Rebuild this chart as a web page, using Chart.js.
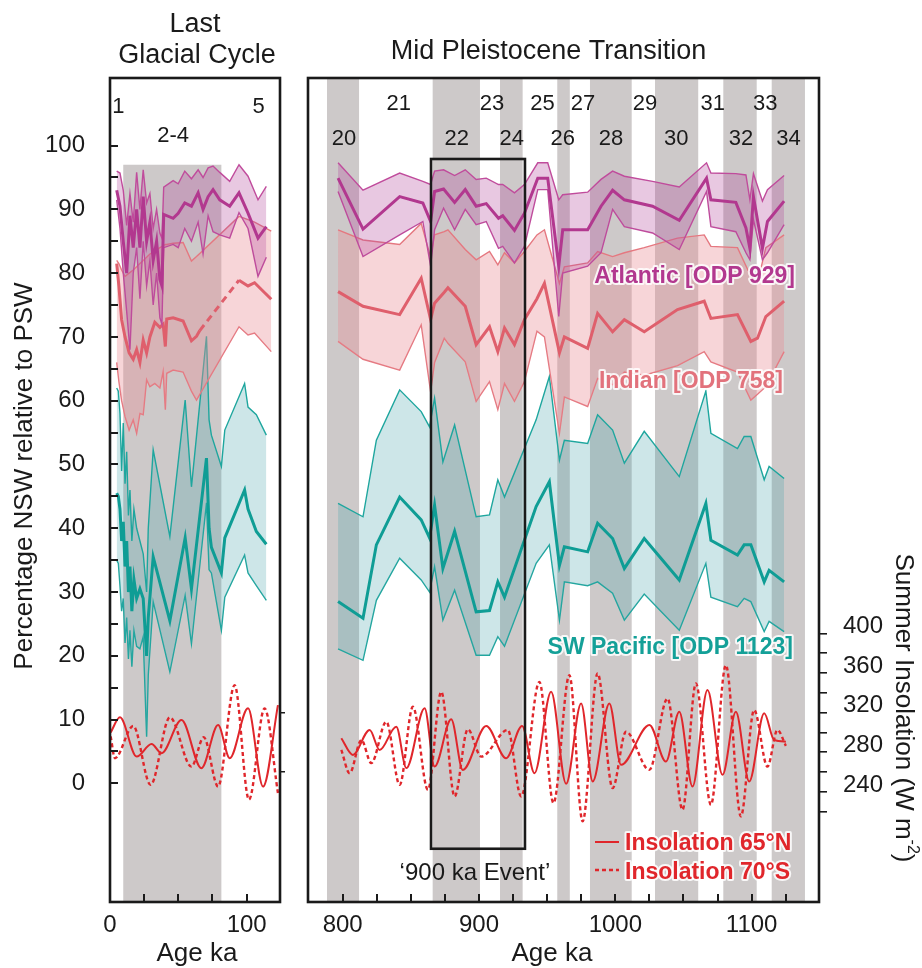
<!DOCTYPE html>
<html>
<head>
<meta charset="utf-8">
<script src="https://cdn.jsdelivr.net/npm/chart.js@4.4.1/dist/chart.umd.min.js"></script>
<style>
html,body{margin:0;padding:0;background:#ffffff;}
#wrap{position:relative;width:922px;height:968px;overflow:hidden;}
#cA{position:absolute;left:0;top:0;}
#cB{position:absolute;left:300px;top:0;}
</style>
</head>
<body>
<div id="wrap">
<canvas id="cA" width="300" height="968"></canvas>
<canvas id="cB" width="622" height="968"></canvas>
</div>
<script>
// ================= DATA =================
// ---- Left panel: Last Glacial Cycle (Age ka) ----
const lgcAtlAge   = [4.9, 7.3, 9.7, 12.2, 14.6, 17.0, 19.5, 21.9, 24.3, 26.8, 29.2, 31.6, 34.1, 36.5, 38.0, 39.3, 46.2, 49.9, 54.7, 59.6, 64.5, 68.1, 71.8, 75.4, 80.3, 87.6, 94.4, 101.0, 108.3, 114.4];
const lgcAtlMean  = [93.0, 90.5, 85.0, 80.0, 89.0, 84.0, 90.0, 84.0, 92.0, 85.0, 88.0, 82.0, 85.0, 79.0, 78.0, 89.2, 88.6, 89.4, 91.0, 90.5, 92.6, 90.0, 92.0, 93.1, 91.5, 90.5, 92.6, 89.4, 85.5, 87.3];
const lgcAtlUpper = [96.0, 95.7, 93.0, 87.5, 92.5, 88.0, 95.8, 90.0, 96.2, 91.0, 92.5, 87.0, 90.0, 86.3, 85.5, 93.5, 94.5, 94.0, 96.0, 94.8, 96.2, 95.0, 96.5, 96.8, 95.8, 94.4, 97.0, 95.2, 91.5, 93.6];
const lgcAtlLower = [91.5, 87.0, 80.0, 74.0, 68.0, 80.0, 84.0, 76.0, 85.0, 78.0, 82.0, 75.0, 80.0, 73.0, 72.0, 84.0, 84.5, 84.0, 87.0, 85.0, 88.0, 83.0, 89.0, 86.5, 86.0, 85.5, 89.5, 87.0, 79.5, 82.5];

const lgcIndAge   = [4.9, 6.5, 8.5, 11.0, 14.0, 17.0, 19.5, 21.9, 24.3, 26.8, 29.2, 32.8, 36.5, 38.9, 40.5, 41.5, 46.2, 53.5, 59.6, 63.3, 65.7, 94.4, 101.0, 105.8, 118.0];
const lgcIndMean  = [81.5, 78.0, 72.7, 70.0, 67.5, 66.5, 68.0, 66.0, 69.5, 67.5, 70.0, 72.3, 71.5, 72.0, 68.5, 72.8, 73.0, 72.5, 69.4, 70.1, 71.0, 78.9, 78.0, 78.5, 75.9];
const lgcIndUpper = [82.0, 81.5, 80.5, 79.5, 80.0, 80.5, 81.0, 81.5, 82.0, 82.5, 83.0, 83.5, 84.0, 84.3, 84.5, 84.5, 84.7, 84.8, 81.9, 82.6, 83.1, 88.9, 88.4, 88.0, 86.6];
const lgcIndLower = [66.0, 63.0, 60.0, 57.5, 55.4, 57.0, 54.9, 58.0, 57.8, 63.3, 62.2, 62.7, 62.0, 64.6, 58.6, 64.3, 64.8, 64.5, 61.5, 60.1, 61.0, 71.6, 70.3, 70.6, 67.7];

const lgcPacAge   = [4.9, 6.1, 7.3, 8.5, 9.7, 11.0, 12.2, 13.5, 14.6, 16.0, 17.5, 19.5, 21.9, 24.3, 26.8, 28.0, 31.6, 43.8, 55.0, 59.6, 70.6, 72.5, 74.2, 81.5, 84.0, 98.5, 101.0, 107.1, 114.4];
const lgcPacUpper = [62.0, 61.5, 58.0, 49.0, 56.5, 47.0, 52.0, 42.0, 46.0, 38.0, 43.0, 40.0, 38.0, 36.0, 30.0, 40.0, 52.3, 38.7, 60.1, 46.5, 70.1, 57.0, 54.6, 49.7, 55.4, 62.7, 59.0, 57.8, 54.6];
const lgcPacMean  = [45.5, 45.0, 43.0, 38.0, 41.0, 34.0, 38.0, 30.0, 34.0, 27.0, 32.0, 29.0, 30.5, 29.0, 20.0, 26.0, 35.5, 25.5, 38.5, 30.5, 51.0, 40.0, 37.0, 33.0, 38.5, 46.0, 43.0, 39.5, 37.5];
const lgcPacLower = [35.0, 34.5, 31.0, 27.0, 29.0, 22.0, 26.0, 19.5, 24.0, 18.3, 24.0, 21.5, 21.1, 23.0, 7.3, 17.0, 28.5, 17.5, 29.5, 21.9, 44.0, 33.5, 33.0, 24.0, 29.2, 35.8, 33.0, 31.0, 28.7];

const lgcInsNAge  = [0.5, 7.3, 19.5, 30.4, 37.7, 52.3, 66.9, 79.1, 87.6, 101.0, 112.0, 122.9];
const lgcInsN     = [300, 315.2, 275.6, 288.4, 279.0, 312.5, 263.9, 307.5, 274.0, 324.3, 245.4, 327.6];
const lgcInsSAge  = [0.5, 3.6, 17.0, 29.7, 43.8, 59.6, 68.6, 79.1, 91.2, 101.7, 113.1, 122.9];
const lgcInsS     = [296, 274.0, 306.5, 247.1, 315.2, 265.5, 295.1, 245.4, 347.7, 232.1, 324.3, 238.8];

const lgcBands = [[9.7, 81.5]];
const lgcBandTop = 97;
const lgcStageNames = ['1', '5', '2-4'];
const lgcStageAge   = [6.1, 108.8, 46.2];

// ---- Right panel: Mid Pleistocene Transition (Age ka) ----
const mptAtlAge   = [796.6, 814.9, 841.8, 858.8, 864.5, 867.4, 874.0, 882.1, 889.9, 897.9, 905.3, 914.3, 917.4, 926.0, 933.3, 943.1, 950.4, 958.5, 961.4, 979.7, 989.5, 998.0, 1006.6, 1027.3, 1046.9, 1066.9, 1070.1, 1088.4, 1095.8, 1098.7, 1101.3, 1107.9, 1111.6, 1123.8];
const mptAtlMean  = [94.9, 86.9, 92.0, 91.0, 88.1, 92.8, 93.2, 91.1, 93.1, 90.5, 90.9, 88.6, 89.0, 86.7, 89.4, 94.9, 94.9, 81.1, 86.8, 86.8, 90.5, 93.0, 91.5, 90.5, 88.3, 94.9, 91.5, 91.1, 87.1, 83.9, 92.0, 83.9, 88.1, 91.3];
const mptAtlUpper = [97.3, 93.0, 95.7, 94.4, 93.9, 96.0, 96.2, 95.3, 96.2, 94.7, 94.9, 93.9, 93.9, 92.6, 93.9, 97.3, 97.3, 91.5, 92.3, 92.7, 94.7, 96.0, 95.2, 94.4, 93.5, 97.3, 95.7, 95.6, 95.4, 91.5, 95.6, 91.3, 93.1, 95.3];
const mptAtlLower = [92.8, 82.6, 86.0, 88.1, 81.1, 86.8, 90.2, 86.8, 90.0, 87.6, 88.1, 83.9, 84.2, 81.6, 84.2, 93.1, 93.1, 73.2, 80.0, 81.1, 83.2, 90.0, 87.3, 86.3, 83.7, 92.8, 87.3, 86.5, 83.2, 82.1, 88.4, 82.1, 83.2, 87.6];

const mptIndAge   = [796.6, 814.9, 841.8, 857.6, 864.5, 867.4, 874.5, 877.2, 889.9, 897.9, 907.7, 913.8, 918.7, 926.0, 933.3, 942.5, 948.0, 959.0, 962.6, 979.7, 987.0, 998.0, 1006.6, 1021.2, 1045.6, 1065.2, 1070.1, 1089.6, 1099.4, 1104.3, 1110.4, 1123.8];
const mptIndMean  = [77.1, 74.8, 73.5, 79.2, 72.7, 75.3, 77.0, 77.7, 74.8, 68.8, 71.6, 67.7, 71.4, 68.8, 72.7, 76.0, 78.4, 67.5, 70.0, 68.2, 73.7, 70.8, 72.7, 70.8, 74.3, 75.6, 72.9, 73.5, 69.3, 69.8, 73.2, 75.6];
const mptIndUpper = [86.8, 85.2, 84.5, 87.8, 82.5, 86.0, 86.5, 86.8, 83.7, 82.1, 83.4, 81.3, 83.2, 81.6, 83.4, 86.0, 86.8, 78.4, 81.0, 81.6, 83.4, 82.6, 83.2, 84.0, 85.5, 86.0, 84.2, 84.0, 79.5, 78.5, 84.0, 86.0];
const mptIndLower = [69.3, 66.5, 64.8, 71.9, 61.4, 66.0, 69.8, 69.0, 66.1, 59.9, 63.0, 58.6, 62.7, 59.9, 63.0, 70.9, 70.0, 54.9, 60.6, 59.1, 63.5, 62.5, 64.5, 64.0, 65.5, 67.7, 66.1, 64.5, 60.1, 61.0, 62.2, 67.7];

const mptPacAge   = [796.6, 814.9, 824.7, 841.8, 857.6, 863.7, 867.4, 873.5, 882.1, 897.9, 907.7, 913.8, 918.7, 941.9, 951.6, 959.0, 962.6, 979.7, 987.0, 998.0, 1006.6, 1021.2, 1046.9, 1066.4, 1070.1, 1089.6, 1094.5, 1099.4, 1109.2, 1112.8, 1123.8];
const mptPacUpper = [43.9, 41.8, 53.8, 61.7, 58.3, 55.9, 60.4, 50.4, 56.2, 41.8, 42.1, 47.6, 44.9, 57.0, 63.8, 50.7, 53.8, 53.3, 57.8, 55.4, 50.2, 55.2, 48.1, 61.5, 54.9, 52.5, 54.4, 54.4, 47.6, 49.7, 47.8];
const mptPacMean  = [28.5, 25.9, 37.4, 44.9, 41.3, 38.5, 43.6, 33.7, 39.5, 26.9, 27.1, 31.6, 29.2, 43.4, 47.3, 34.2, 37.1, 36.3, 40.8, 38.4, 33.7, 38.4, 31.9, 43.9, 38.1, 35.8, 37.4, 37.4, 31.6, 33.4, 31.6];
const mptPacLower = [21.1, 19.3, 28.7, 35.3, 31.9, 30.0, 34.0, 25.6, 30.3, 20.1, 20.1, 23.0, 21.5, 34.5, 37.4, 25.6, 31.6, 31.0, 31.6, 29.8, 25.6, 29.7, 24.0, 34.5, 29.2, 27.7, 29.0, 28.5, 23.8, 25.4, 23.8];

const mptInsNAge  = [799.0, 807.5, 819.8, 827.1, 839.3, 846.7, 860.1, 867.4, 879.6, 888.1, 905.3, 919.9, 931.6, 940.7, 952.9, 963.9, 974.9, 983.4, 995.6, 1004.2, 1025.0, 1037.1, 1046.9, 1056.6, 1067.6, 1078.6, 1088.4, 1098.2, 1109.2, 1116.5, 1125.1];
const mptInsN     = [294.1, 277.3, 302.5, 282.3, 305.8, 264.0, 324.3, 265.5, 313.2, 262.2, 306.5, 274.0, 306.5, 258.9, 341.0, 248.1, 329.3, 250.5, 329.3, 267.3, 307.5, 270.6, 320.9, 245.4, 342.7, 257.2, 320.9, 250.5, 319.3, 292.4, 290.7];
const mptInsSAge  = [799.0, 805.1, 813.7, 821.0, 832.0, 841.8, 851.5, 862.5, 872.3, 882.1, 891.8, 901.6, 921.1, 930.9, 944.3, 954.6, 966.3, 976.0, 987.0, 998.0, 1007.8, 1024.9, 1038.3, 1049.3, 1059.1, 1070.1, 1081.1, 1092.1, 1101.8, 1111.6, 1118.9, 1125.1];
const mptInsS     = [282.3, 258.9, 292.4, 269.0, 310.8, 247.1, 325.9, 242.1, 341.0, 235.4, 303.2, 275.6, 302.5, 235.4, 351.0, 228.7, 357.8, 210.2, 359.5, 243.8, 300.7, 262.2, 334.3, 222.0, 349.4, 227.0, 367.8, 215.3, 322.6, 265.5, 302.5, 286.4];

const mptBands = [[788.5, 812.0], [866.0, 900.7], [915.4, 932.0], [957.4, 966.6], [981.4, 1012.0], [1029.1, 1060.8], [1079.2, 1103.7], [1114.7, 1139.1]];
const mptStageNames = ['20', '21', '22', '23', '24', '25', '26', '27', '28', '29', '30', '31', '32', '33', '34'];
const mptStageAge   = [801.0, 841.1, 883.6, 909.5, 924.0, 946.6, 961.4, 976.3, 996.8, 1021.7, 1044.7, 1071.5, 1092.2, 1110.0, 1127.0];
const eventAge = [864.8, 933.7];
const eventNsw = [-10.25, 97.9];

// tick definitions
const nswTicks = [0, 5, 10, 15, 20, 25, 30, 35, 40, 45, 50, 55, 60, 65, 70, 75, 80, 85, 90, 95, 100];
const lgcAgeTicks = [0, 25, 50, 75, 100];
const mptAgeTicks = [800, 825, 850, 875, 900, 925, 950, 975, 1000, 1025, 1050, 1075, 1100, 1125];
const insTicks = [220, 240, 260, 280, 300, 320, 340, 360, 380, 400];
const lgcInsMarks = [260, 320];

// ================= STYLE =================
const FONT = "'Liberation Sans', Arial, Helvetica, sans-serif";
const INK = '#1a1a1a';
const GRAY = '#cdc9c9';
const ATL = '#b2388f', ATL_T = '#c04c9c', ATL_F = 'rgba(181,77,158,0.31)';
const IND = '#df5f6c', IND_T = '#e57880', IND_F = 'rgba(233,141,149,0.37)';
const PAC = '#0f9d95', PAC_T = '#1ea69e', PAC_F = 'rgba(83,169,176,0.29)';
const RED = '#e0262b';
const NSW_MIN = -18.6, NSW_MAX = 110.6;
const INS_MIN = 128.9, INS_MAX = 960.3;

function mk(xs, ys) { return xs.map((x, i) => ({ x: x, y: ys[i] })); }

function seriesSets(name, xs, up, lo, mean, col, thin, fillCol, segDash) {
  const m = { label: name, data: mk(xs, mean), borderColor: col, borderWidth: 3, yAxisID: 'y', fill: false };
  if (segDash) m.segment = { borderDash: segDash };
  return [
    m,
    { label: name + ' upper', data: mk(xs, up), borderColor: thin, borderWidth: 1.4, yAxisID: 'y', fill: '+1', backgroundColor: fillCol },
    { label: name + ' lower', data: mk(xs, lo), borderColor: thin, borderWidth: 1.4, yAxisID: 'y', fill: false }
  ];
}
function insSets(xN, yN, xS, yS) {
  return [
    { label: 'Insolation 65°N', data: mk(xN, yN), borderColor: RED, borderWidth: 2, yAxisID: 'yI', fill: false, cubicInterpolationMode: 'monotone' },
    { label: 'Insolation 70°S', data: mk(xS, yS), borderColor: RED, borderWidth: 2.4, borderDash: [4, 3], yAxisID: 'yI', fill: false, cubicInterpolationMode: 'monotone' }
  ];
}

function txt(ctx, s, x, y, o) {
  o = o || {};
  ctx.save();
  ctx.font = (o.bold ? 'bold ' : '') + (o.size || 24) + 'px ' + FONT;
  ctx.textAlign = o.align || 'center';
  ctx.textBaseline = o.base || 'alphabetic';
  if (o.halo) { ctx.lineJoin = 'round'; ctx.strokeStyle = 'rgba(255,255,255,0.85)'; ctx.lineWidth = 4; ctx.strokeText(s, x, y); }
  ctx.fillStyle = o.color || INK;
  ctx.fillText(s, x, y);
  ctx.restore();
}
function boxAndTicks(chart, xTicks, yTicks) {
  const { ctx, chartArea: a, scales } = chart;
  ctx.save();
  ctx.strokeStyle = INK; ctx.lineWidth = 2.6;
  ctx.strokeRect(a.left, a.top, a.right - a.left, a.bottom - a.top);
  ctx.lineWidth = 2;
  ctx.beginPath();
  xTicks.forEach(v => { const px = Math.round(scales.x.getPixelForValue(v)); ctx.moveTo(px, a.bottom); ctx.lineTo(px, a.bottom - 8); });
  (yTicks || []).forEach(v => { const py = Math.round(scales.y.getPixelForValue(v)); ctx.moveTo(a.left, py); ctx.lineTo(a.left + 8, py); });
  ctx.stroke();
  ctx.restore();
}

function baseOptions(xMin, xMax, xTicks, xLabelEvery) {
  return {
    responsive: false, animation: false, devicePixelRatio: 1,
    elements: { line: { tension: 0 }, point: { radius: 0, hitRadius: 0 } },
    plugins: { legend: { display: false }, tooltip: { enabled: false }, filler: { propagate: false } },
    scales: {
      x: {
        type: 'linear', position: 'bottom', min: xMin, max: xMax,
        afterFit: s => { s.height = 66; },
        afterBuildTicks: s => { s.ticks = xTicks.map(v => ({ value: v })); },
        ticks: { autoSkip: false, maxRotation: 0, padding: 9, color: INK, font: { family: FONT, size: 24 },
                 callback: v => (v % xLabelEvery === 0 ? String(v) : '') },
        grid: { display: false, drawTicks: false }, border: { display: false }
      }
    }
  };
}

// ================= LEFT CHART =================
const optA = baseOptions(0, 124.4, lgcAgeTicks, 100);
optA.layout = { padding: { top: 78, left: 0, right: 0, bottom: 0 } };
optA.scales.y = {
  type: 'linear', position: 'left', min: NSW_MIN, max: NSW_MAX,
  afterFit: s => { s.width = 110; },
  afterBuildTicks: s => { s.ticks = nswTicks.map(v => ({ value: v })); },
  ticks: { autoSkip: false, padding: 25, color: INK, font: { family: FONT, size: 24 }, callback: v => (v % 10 === 0 ? String(v) : '') },
  grid: { display: false, drawTicks: false }, border: { display: false }
};
optA.scales.yI = {
  type: 'linear', position: 'right', min: INS_MIN, max: INS_MAX,
  afterFit: s => { s.width = 20; },
  afterBuildTicks: s => { s.ticks = lgcInsMarks.map(v => ({ value: v })); },
  ticks: { autoSkip: false, padding: 0, callback: () => '' },
  grid: { display: true, drawOnChartArea: false, drawTicks: true, tickLength: 5, color: INK, lineWidth: 1.5 },
  border: { display: false }
};

const leftDeco = {
  id: 'leftDeco',
  beforeDatasetsDraw(chart) {
    const { ctx, chartArea: a, scales: { x, y } } = chart;
    ctx.save(); ctx.fillStyle = GRAY;
    lgcBands.forEach(b => {
      const x0 = x.getPixelForValue(b[0]), x1 = x.getPixelForValue(b[1]);
      const yt = y.getPixelForValue(lgcBandTop);
      ctx.fillRect(x0, yt, x1 - x0, a.bottom - yt);
    });
    ctx.restore();
  },
  afterDraw(chart) {
    const { ctx, chartArea: a, scales: { x } } = chart;
    boxAndTicks(chart, lgcAgeTicks.filter(v => v > 0), nswTicks);
    const cx = (a.left + a.right) / 2;
    txt(ctx, 'Last', cx, 32, { size: 27 });
    txt(ctx, 'Glacial Cycle', cx + 2, 63, { size: 27 });
    lgcStageNames.forEach((n, i) => {
      txt(ctx, n, x.getPixelForValue(lgcStageAge[i]), n.indexOf('-') >= 0 ? 142 : 113, { size: 22 });
    });
    txt(ctx, 'Age ka', cx + 2, 961, { size: 26 });
    ctx.save();
    ctx.translate(25, 476); ctx.rotate(-Math.PI / 2);
    txt(ctx, 'Percentage NSW relative to PSW', 0, 0, { size: 26, base: 'middle' });
    ctx.restore();
  }
};

const chartA = new Chart(document.getElementById('cA'), {
  type: 'line',
  data: {
    datasets: [].concat(
      insSets(lgcInsNAge, lgcInsN, lgcInsSAge, lgcInsS),
      seriesSets('Atlantic [ODP 929]', lgcAtlAge, lgcAtlUpper, lgcAtlLower, lgcAtlMean, ATL, ATL_T, ATL_F),
      seriesSets('Indian [ODP 758]', lgcIndAge, lgcIndUpper, lgcIndLower, lgcIndMean, IND, IND_T, IND_F,
        c => (lgcIndAge[c.p1DataIndex] - lgcIndAge[c.p0DataIndex] > 20 ? [7, 5] : undefined)),
      seriesSets('SW Pacific [ODP 1123]', lgcPacAge, lgcPacUpper, lgcPacLower, lgcPacMean, PAC, PAC_T, PAC_F)
    )
  },
  options: optA,
  plugins: [leftDeco]
});

// ================= RIGHT CHART =================
const OFF = 300; // page offset of right canvas
const optB = baseOptions(774.55, 1149.4, mptAgeTicks, 100);
optB.layout = { padding: { top: 78, left: 8, right: 0, bottom: 0 } };
optB.scales.y = { type: 'linear', display: false, min: NSW_MIN, max: NSW_MAX };
optB.scales.yI = {
  type: 'linear', position: 'right', min: INS_MIN, max: INS_MAX,
  afterFit: s => { s.width = 103; },
  afterBuildTicks: s => { s.ticks = insTicks.map(v => ({ value: v })); },
  ticks: { autoSkip: false, padding: 16, labelOffset: -7, color: INK, font: { family: FONT, size: 24 },
           callback: v => (v % 40 === 0 ? String(v) : '') },
  grid: { display: true, drawOnChartArea: false, drawTicks: true, tickLength: 8, color: INK, lineWidth: 1.6 },
  border: { display: false }
};

const rightDeco = {
  id: 'rightDeco',
  beforeDatasetsDraw(chart) {
    const { ctx, chartArea: a, scales: { x } } = chart;
    ctx.save(); ctx.fillStyle = GRAY;
    mptBands.forEach(b => {
      const x0 = x.getPixelForValue(b[0]), x1 = x.getPixelForValue(b[1]);
      ctx.fillRect(x0, a.top, x1 - x0, a.bottom - a.top);
    });
    ctx.restore();
  },
  afterDraw(chart) {
    const { ctx, chartArea: a, scales: { x, y } } = chart;
    boxAndTicks(chart, mptAgeTicks, []);
    // 900 ka event box
    ctx.save();
    ctx.strokeStyle = INK; ctx.lineWidth = 2.6;
    const ex0 = x.getPixelForValue(eventAge[0]), ex1 = x.getPixelForValue(eventAge[1]);
    const ey0 = y.getPixelForValue(eventNsw[1]), ey1 = y.getPixelForValue(eventNsw[0]);
    ctx.strokeRect(ex0, ey0, ex1 - ex0, ey1 - ey0);
    ctx.restore();
    txt(ctx, '\u2018900 ka Event\u2019', (ex0 + ex1) / 2 - 3, 880, { size: 24 });
    // titles
    txt(ctx, 'Mid Pleistocene Transition', 548.5 - OFF, 59, { size: 27 });
    mptStageNames.forEach((n, i) => {
      txt(ctx, n, x.getPixelForValue(mptStageAge[i]), (parseInt(n, 10) % 2 === 0) ? 145 : 110, { size: 22 });
    });
    // series labels
    txt(ctx, 'Atlantic [ODP 929]', 795 - OFF, 283, { size: 23, bold: true, align: 'right', color: ATL, halo: true });
    txt(ctx, 'Indian [ODP 758]', 783 - OFF, 388, { size: 23, bold: true, align: 'right', color: '#e2727c', halo: true });
    txt(ctx, 'SW Pacific [ODP 1123]', 793 - OFF, 654, { size: 23, bold: true, align: 'right', color: '#14a098', halo: true });
    // legend
    ctx.save();
    ctx.strokeStyle = RED; ctx.lineWidth = 2;
    ctx.beginPath(); ctx.moveTo(595 - OFF, 842); ctx.lineTo(619 - OFF, 842); ctx.stroke();
    ctx.lineWidth = 2.4; ctx.setLineDash([4, 3]);
    ctx.beginPath(); ctx.moveTo(595 - OFF, 870); ctx.lineTo(619 - OFF, 870); ctx.stroke();
    ctx.restore();
    txt(ctx, 'Insolation 65°N', 625 - OFF, 850, { size: 23, bold: true, align: 'left', color: RED, halo: true });
    txt(ctx, 'Insolation 70°S', 625 - OFF, 879, { size: 23, bold: true, align: 'left', color: RED, halo: true });
    // axis titles
    txt(ctx, 'Age ka', 552 - OFF, 961, { size: 26 });
    ctx.save();
    ctx.translate(903 - OFF, 708); ctx.rotate(Math.PI / 2);
    ctx.fillStyle = INK; ctx.textBaseline = 'middle'; ctx.textAlign = 'left';
    const main = 'Summer Insolation (W m', sup = '-2', end = ')';
    ctx.font = '26px ' + FONT; const w1 = ctx.measureText(main).width; const w3 = ctx.measureText(end).width;
    ctx.font = '16px ' + FONT; const w2 = ctx.measureText(sup).width;
    let cx = -(w1 + w2 + w3) / 2;
    ctx.font = '26px ' + FONT; ctx.fillText(main, cx, 0); cx += w1;
    ctx.font = '16px ' + FONT; ctx.fillText(sup, cx, -9); cx += w2;
    ctx.font = '26px ' + FONT; ctx.fillText(end, cx, 0);
    ctx.restore();
  }
};

const chartB = new Chart(document.getElementById('cB'), {
  type: 'line',
  data: {
    datasets: [].concat(
      insSets(mptInsNAge, mptInsN, mptInsSAge, mptInsS),
      seriesSets('Atlantic [ODP 929]', mptAtlAge, mptAtlUpper, mptAtlLower, mptAtlMean, ATL, ATL_T, ATL_F),
      seriesSets('Indian [ODP 758]', mptIndAge, mptIndUpper, mptIndLower, mptIndMean, IND, IND_T, IND_F),
      seriesSets('SW Pacific [ODP 1123]', mptPacAge, mptPacUpper, mptPacLower, mptPacMean, PAC, PAC_T, PAC_F)
    )
  },
  options: optB,
  plugins: [rightDeco]
});
</script>
</body>
</html>
